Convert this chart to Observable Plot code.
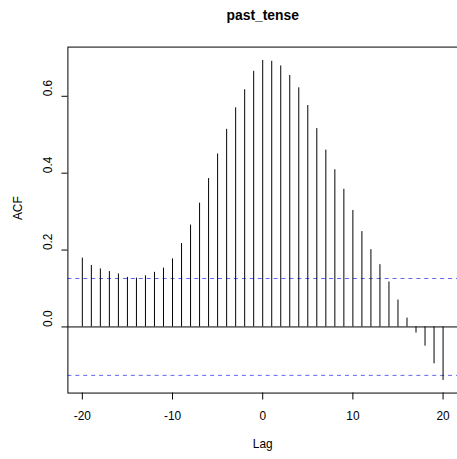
<!DOCTYPE html>
<html>
<head>
<meta charset="utf-8">
<script src="https://cdn.jsdelivr.net/npm/d3@7"></script>
<script src="https://cdn.jsdelivr.net/npm/@observablehq/plot@0.6"></script>
<style>
html, body { margin: 0; padding: 0; overflow: hidden; background: #fff; }
#chart { width: 457px; height: 459px; overflow: hidden; }
</style>
</head>
<body>
<div id="chart"></div>
<script>
const title = "past_tense";
const xLabel = "Lag";
const yLabel = "ACF";
const lags = [-20,-19,-18,-17,-16,-15,-14,-13,-12,-11,-10,-9,-8,-7,-6,-5,-4,-3,-2,-1,0,1,2,3,4,5,6,7,8,9,10,11,12,13,14,15,16,17,18,19,20];
const acf = [0.179,0.160,0.151,0.144,0.138,0.129,0.127,0.133,0.142,0.153,0.177,0.217,0.265,0.322,0.386,0.450,0.514,0.570,0.617,0.665,
             0.693,0.691,0.679,0.654,0.622,0.576,0.516,0.460,0.409,0.358,0.303,0.248,0.201,0.162,0.117,0.070,0.023,-0.016,-0.050,-0.096,-0.139];
const confLimits = [0.126, -0.126];
const xTicks = [-20, -10, 0, 10, 20];
const yTicks = [0.0, 0.2, 0.4, 0.6];

const data = lags.map((l, i) => ({lag: l, acf: acf[i]}));
const font = "'Liberation Sans', Arial, Helvetica, sans-serif";

const chart = Plot.plot({
  width: 461,
  height: 459,
  marginLeft: 68,
  marginRight: 0,
  marginTop: 47,
  marginBottom: 63,
  style: {fontFamily: font, fontSize: "12px", color: "#000", background: "#fff", overflow: "visible"},
  x: {domain: [-21.6, 21.6]},
  y: {domain: [-0.172, 0.728]},
  marks: [
    Plot.ruleY([0], {stroke: "#000", strokeWidth: 1}),
    Plot.ruleY(confLimits, {stroke: "#3030f0", strokeOpacity: 0.75, strokeWidth: 1, strokeDasharray: "4,4"}),
    Plot.ruleX(data, {x: "lag", y1: 0, y2: "acf", stroke: "#000", strokeWidth: 1}),
    Plot.frame({stroke: "#000", strokeWidth: 1}),
    Plot.axisX(xTicks, {tickSize: 7, text: null, label: null}),
    Plot.axisY(yTicks, {tickSize: 6, text: null, label: null}),
    Plot.text(xTicks, {x: d => d, text: d => String(d), frameAnchor: "bottom", lineAnchor: "middle", dy: 23, fontSize: 12}),
    Plot.text(yTicks, {y: d => d, text: d => d.toFixed(1), frameAnchor: "left", dx: -20, rotate: -90, fontSize: 12}),
    Plot.text([xLabel], {frameAnchor: "bottom", lineAnchor: "middle", dy: 52, text: d => d, fontSize: 12}),
    Plot.text([yLabel], {frameAnchor: "left", dx: -50, rotate: -90, text: d => d, fontSize: 12}),
    Plot.text([title], {frameAnchor: "top", lineAnchor: "middle", dy: -32, text: d => d, fontSize: 14, fontWeight: "bold"})
  ]
});
document.getElementById("chart").appendChild(chart);
</script>
</body>
</html>
